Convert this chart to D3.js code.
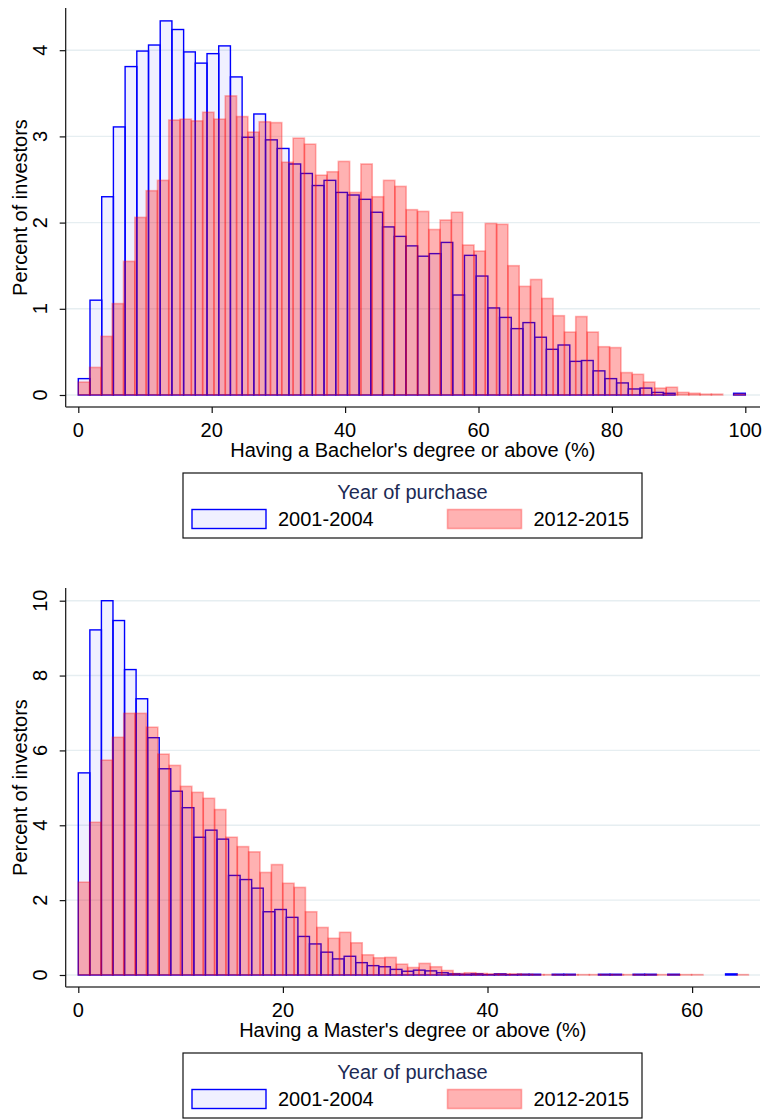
<!DOCTYPE html>
<html>
<head>
<meta charset="utf-8">
<script src="https://cdn.jsdelivr.net/npm/d3@7"></script>
<style>
  body { margin: 0; background: #fff; }
  text { font-family: "Liberation Sans", Arial, Helvetica, sans-serif; }
</style>
</head>
<body>
<div class="canvas"></div>
<script>
// series labels
const legendTitle = 'Year of purchase';
const seriesNames = ['2001-2004', '2012-2015'];

// top panel: Bachelor's degree share, percent of investors per bin
const bachTitle = "Having a Bachelor's degree or above (%)";
const bachTicksX = [0, 20, 40, 60, 80, 100];
const bachTicksY = [0, 1, 2, 3, 4];
const bachRangeOld = [0, 100];
const bachRangeNew = [0, 100];
const bachOld = [
  0.19, 1.10, 2.30, 3.11, 3.81, 3.99, 4.06, 4.34, 4.24, 3.98,
  3.85, 3.96, 4.05, 3.69, 2.99, 3.26, 2.96, 2.86, 2.68, 2.57,
  2.43, 2.49, 2.35, 2.32, 2.27, 2.12, 1.95, 1.84, 1.73, 1.61,
  1.64, 1.77, 1.16, 1.62, 1.38, 1.01, 0.90, 0.77, 0.84, 0.67,
  0.53, 0.58, 0.39, 0.40, 0.28, 0.19, 0.14, 0.07, 0.08, 0.03,
  0.02, 0, 0, 0, 0, 0, 0.02
];
const bachNew = [
  0.15, 0.32, 0.68, 1.06, 1.55, 2.06, 2.37, 2.49, 3.19, 3.20,
  3.18, 3.28, 3.20, 3.47, 3.23, 3.05, 3.17, 3.16, 2.70, 2.98,
  2.91, 2.55, 2.59, 2.71, 2.35, 2.68, 2.30, 2.49, 2.42, 2.15,
  2.13, 1.92, 2.03, 2.12, 1.74, 1.67, 1.99, 1.98, 1.50, 1.26,
  1.34, 1.12, 0.92, 0.73, 0.91, 0.73, 0.56, 0.55, 0.26, 0.24,
  0.15, 0.08, 0.09, 0.03, 0.02, 0.01, 0.01, 0, 0.01
];

// bottom panel: Master's degree share
const mastTitle = "Having a Master's degree or above (%)";
const mastTicksX = [0, 20, 40, 60];
const mastTicksY = [0, 2, 4, 6, 8, 10];
const mastRangeOld = [0, 64.4];
const mastRangeNew = [0, 65.5];
const mastOld = [
  5.40, 9.22, 10.0, 9.47, 8.16, 7.38, 6.34, 5.51, 4.91, 4.47,
  3.68, 3.87, 3.63, 2.66, 2.55, 2.32, 1.69, 1.75, 1.54, 1.03,
  0.83, 0.61, 0.43, 0.50, 0.33, 0.25, 0.22, 0.15, 0.10, 0.13,
  0.11, 0.06, 0.03, 0.02, 0.03, 0.01, 0.03, 0.01, 0.02, 0.02,
  0, 0.02, 0.02, 0, 0, 0.02, 0.02, 0, 0.02, 0.02,
  0, 0.02, 0, 0, 0, 0, 0.03
];
const mastNew = [
  2.48, 4.08, 5.74, 6.35, 6.99, 6.99, 6.62, 5.90, 5.60, 5.04,
  4.88, 4.72, 4.42, 3.68, 3.43, 3.29, 2.74, 2.95, 2.45, 2.34,
  1.69, 1.27, 0.98, 1.14, 0.86, 0.54, 0.46, 0.47, 0.29, 0.20,
  0.31, 0.22, 0.12, 0.04, 0.06, 0.04, 0.03, 0.03, 0.03, 0.02,
  0.01, 0.01, 0.01, 0.01, 0.01, 0.01, 0.01, 0.01, 0.01, 0.01,
  0.01, 0.01, 0.01, 0.01, 0.01, 0, 0, 0, 0.01
];

const svg = d3.select('.canvas')
  .append('svg')
    .attr('width', 766)
    .attr('height', 1119);

const fontSize = 20;
const oldStyle = {fill: 'rgba(0,0,255,0.06)', stroke: '#0000ff'};
const newStyle = {fill: 'rgba(255,0,0,0.3)', stroke: 'rgba(255,0,0,0.3)'};

// turn heights + range into bins
const toBins = (values, range) => {
  const w = (range[1] - range[0]) / values.length;
  return values.map((v, i) => ({x0: range[0] + i * w, x1: range[0] + (i + 1) * w, v}));
};

const drawPanel = (cfg, top) => {
  const g = svg.append('g').attr('transform', `translate(0, ${top})`);
  const plotL = 65.7, plotR = 760, plotT = 8, plotB = 407;

  const x = d3.scaleLinear().domain([0, cfg.xMax]).range([78.3, cfg.xMaxPx]);
  const y = d3.scaleLinear().domain([0, d3.max(cfg.ticksY)]).range([395, cfg.yTopPx]);

  // gridlines
  g.selectAll('line.grid')
    .data(cfg.ticksY)
    .enter().append('line')
      .attr('class', 'grid')
      .attr('x1', plotL).attr('x2', plotR)
      .attr('y1', d => y(d)).attr('y2', d => y(d))
      .attr('stroke', '#e6eef1')
      .attr('stroke-width', 1.4);

  // bars, older period first, newer drawn over it
  const series = [
    {bins: toBins(cfg.old, cfg.rangeOld), style: oldStyle, sw: 1.4},
    {bins: toBins(cfg.new, cfg.rangeNew), style: newStyle, sw: 1.6}
  ];
  series.forEach(s => {
    g.append('g').selectAll('rect')
      .data(s.bins.filter(b => b.v > 0))
      .enter().append('rect')
        .attr('x', d => x(d.x0))
        .attr('width', d => x(d.x1) - x(d.x0))
        .attr('y', d => y(d.v))
        .attr('height', d => y(0) - y(d.v))
        .attr('fill', s.style.fill)
        .attr('stroke', s.style.stroke)
        .attr('stroke-width', s.sw);
  });

  // y axis
  const yAxis = d3.axisLeft(y).tickValues(cfg.ticksY).tickSize(6).tickFormat('');
  g.append('g')
    .attr('transform', `translate(${plotL}, 0)`)
    .call(yAxis)
    .call(a => a.select('.domain').attr('d', `M0,${plotT}V${plotB}`).attr('stroke', '#111').attr('stroke-width', 1.2))
    .call(a => a.selectAll('.tick line').attr('stroke', '#111').attr('stroke-width', 1.2));

  g.selectAll('text.ytick')
    .data(cfg.ticksY)
    .enter().append('text')
      .attr('class', 'ytick')
      .attr('transform', d => `translate(47, ${y(d)}) rotate(-90)`)
      .attr('text-anchor', 'middle')
      .attr('font-size', fontSize)
      .text(d => d);

  g.append('text')
    .attr('transform', `translate(27, ${(plotT + plotB) / 2}) rotate(-90)`)
    .attr('text-anchor', 'middle')
    .attr('font-size', fontSize)
    .text('Percent of investors');

  // x axis
  const xAxis = d3.axisBottom(x).tickValues(cfg.ticksX).tickSize(6).tickFormat('');
  g.append('g')
    .attr('transform', `translate(0, ${plotB})`)
    .call(xAxis)
    .call(a => a.select('.domain').attr('d', `M${plotL},0H${plotR}`).attr('stroke', '#444').attr('stroke-width', 1.4))
    .call(a => a.selectAll('.tick line').attr('stroke', '#111').attr('stroke-width', 1.2));

  g.selectAll('text.xtick')
    .data(cfg.ticksX)
    .enter().append('text')
      .attr('class', 'xtick')
      .attr('x', d => x(d))
      .attr('y', 437)
      .attr('text-anchor', 'middle')
      .attr('font-size', fontSize)
      .text(d => d);

  g.append('text')
    .attr('x', (plotL + plotR) / 2)
    .attr('y', 457)
    .attr('text-anchor', 'middle')
    .attr('font-size', fontSize)
    .text(cfg.title);

  // legend
  const lg = g.append('g');
  lg.append('rect')
    .attr('x', 183).attr('y', 473)
    .attr('width', 459).attr('height', 65)
    .attr('fill', '#fff')
    .attr('stroke', '#111')
    .attr('stroke-width', 1.2);
  lg.append('text')
    .attr('x', 412.5).attr('y', 498.5)
    .attr('text-anchor', 'middle')
    .attr('font-size', fontSize)
    .attr('fill', '#1c2a55')
    .text(legendTitle);
  const keyX = [192, 447.5];
  [oldStyle, newStyle].forEach((st, i) => {
    lg.append('rect')
      .attr('x', keyX[i]).attr('y', 509.5)
      .attr('width', 74).attr('height', 19)
      .attr('fill', st.fill)
      .attr('stroke', st.stroke)
      .attr('stroke-width', i ? 1.6 : 1.4);
    lg.append('text')
      .attr('x', keyX[i] + 86).attr('y', 526)
      .attr('font-size', fontSize)
      .text(seriesNames[i]);
  });
};

drawPanel({
  old: bachOld, new: bachNew, rangeOld: bachRangeOld, rangeNew: bachRangeNew,
  ticksX: bachTicksX, ticksY: bachTicksY, xMax: 100, xMaxPx: 745.3, yTopPx: 50.2,
  title: bachTitle
}, 0);

drawPanel({
  old: mastOld, new: mastNew, rangeOld: mastRangeOld, rangeNew: mastRangeNew,
  ticksX: mastTicksX, ticksY: mastTicksY, xMax: 60, xMaxPx: 692.1, yTopPx: 20.7,
  title: mastTitle
}, 580);
</script>
</body>
</html>
